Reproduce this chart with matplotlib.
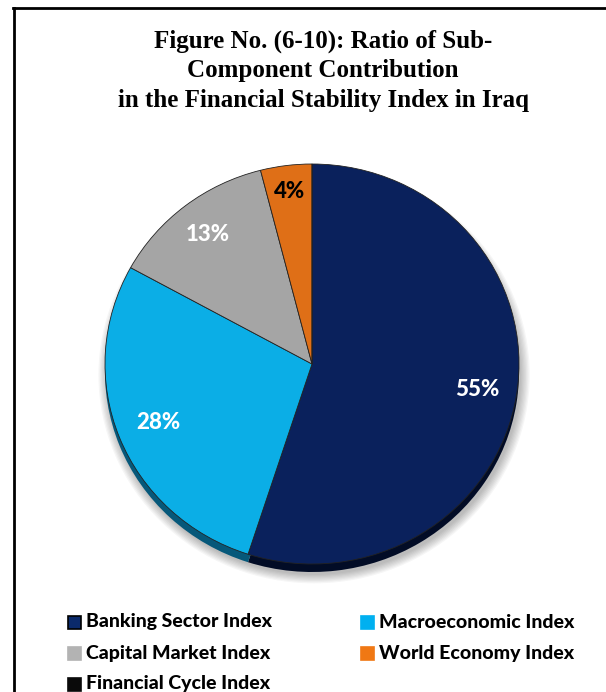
import numpy as np
import matplotlib
matplotlib.use("Agg")
import matplotlib.pyplot as plt
from matplotlib.patches import Wedge, Ellipse, Rectangle
from matplotlib.lines import Line2D

# Data
categories = ["Banking Sector Index", "Macroeconomic Index", "Capital Market Index",
              "World Economy Index", "Financial Cycle Index"]
shares = [55, 28, 13, 4, 0]
label_text = ["55%", "28%", "13%", "4%", ""]
label_colors = ["white", "white", "white", "black", "white"]
label_radius = [0.81, 0.80, 0.82, 0.87, 0.8]

colors = ["#0A215C", "#0BAEE6", "#A5A5A5", "#DF6F17", "#0A0A0A"]
rim_colors = ["#020C26", "#06587A", "#5E5E5E", "#7A3B0A", "#000000"]
legend_colors = ["#0B2A6B", "#00B0F0", "#B3B3B3", "#F07814", "#0A0A0A"]

W, H = 606, 692
fig = plt.figure(figsize=(W / 100, H / 100), dpi=100)

def fx(px):
    return px / W

def fy(py):
    return 1 - py / H

# Frame lines
fig.add_artist(Line2D([fx(13), 1.0], [fy(8), fy(8)], color="black", lw=2.0,
                      transform=fig.transFigure))
fig.add_artist(Line2D([fx(14), fx(14)], [fy(8), 0.0], color="black", lw=2.0,
                      transform=fig.transFigure))

# Title
title_lines = ["Figure No. (6-10): Ratio of Sub-",
               "Component Contribution",
               "in the Financial Stability Index in Iraq"]
title_y = [41, 71, 101]
for line, y in zip(title_lines, title_y):
    fig.text(fx(323), fy(y), line, ha="center", va="center",
             family="Liberation Serif", fontweight="bold", fontsize=18)

# Pie
cx, cy, rx, ry = 312, 364, 207, 200
ax = fig.add_axes([fx(cx - rx), fy(cy + ry), fx(2 * rx), 2 * ry / H])
ax.axis("off")

# soft drop shadow under the pie
for i in range(8):
    s = 1.0 + 0.006 * i
    ax.add_patch(Ellipse((0.01, -0.055), 2 * s, 2 * s, facecolor="#000000",
                         alpha=0.035, edgecolor="none", clip_on=False, zorder=0))

wedges, _ = ax.pie(shares, colors=colors, startangle=90, counterclock=False,
                   radius=1.0, wedgeprops=dict(linewidth=0.6, edgecolor="#222222"))
ax.set_aspect("auto")
ax.set_xlim(-1, 1)
ax.set_ylim(-1, 1)

# depth rim below each slice
for w, rc in zip(wedges, rim_colors):
    rim = Wedge((0, -0.04), 1.0, w.theta1, w.theta2, facecolor=rc,
                edgecolor="none", clip_on=False, zorder=0.5)
    ax.add_patch(rim)
for w in wedges:
    w.set_clip_on(False)
    w.set_zorder(1)

# percentage labels
for w, txt, tc, r in zip(wedges, label_text, label_colors, label_radius):
    if not txt:
        continue
    mid = np.deg2rad((w.theta1 + w.theta2) / 2)
    ax.text(r * np.cos(mid), r * np.sin(mid), txt, ha="center", va="center",
            color=tc, family="Lato", fontweight="black", fontsize=16, zorder=3)

# Legend
legend_pos = [(68, 622), (361, 622), (68, 653), (361, 653), (68, 684)]
sq = 13
for name, col, (x, y) in zip(categories, legend_colors, legend_pos):
    ec = "black" if name == "Banking Sector Index" else col
    fig.add_artist(Rectangle((fx(x), fy(y + sq / 2)), fx(sq), sq / H,
                             facecolor=col, edgecolor=ec, linewidth=1.2,
                             transform=fig.transFigure))
    fig.text(fx(x + sq + 5), fy(y), name, ha="left", va="center",
             family="Lato", fontweight="black", fontsize=14, color="black")

fig.savefig("out.png", dpi=100, facecolor="white")
